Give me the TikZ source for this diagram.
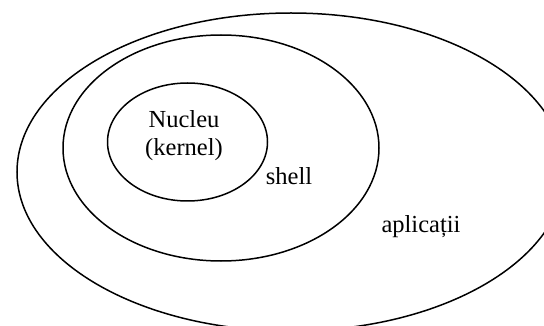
\documentclass[tikz,border=0pt]{standalone}
\usepackage{fontspec}
\setmainfont{Liberation Serif}
\begin{document}
\begin{tikzpicture}[x=1pt,y=-1pt,
  ring/.style={draw=black,line width=1.5pt},
  lbl/.style={font=\fontsize{24.5}{28}\selectfont, inner sep=0pt, anchor=base}]
\useasboundingbox (0,0) rectangle (544,326);
\clip (0,0) rectangle (544,326);
% layers: applications, shell, kernel
\draw[ring] (291,172) ellipse [x radius=274, y radius=159];
\draw[ring] (221,148) ellipse [x radius=158, y radius=113];
\draw[ring] (187.5,142) ellipse [x radius=80, y radius=59];
\node[lbl] (nucleu) at (184,128) {Nucleu};
\node[lbl] (kernel) at (184,156) {(kernel)};
\node[lbl] (shell) at (289,185) {shell};
\node[lbl] (apl) at (421,233) {aplicații};
\end{tikzpicture}
\end{document}
